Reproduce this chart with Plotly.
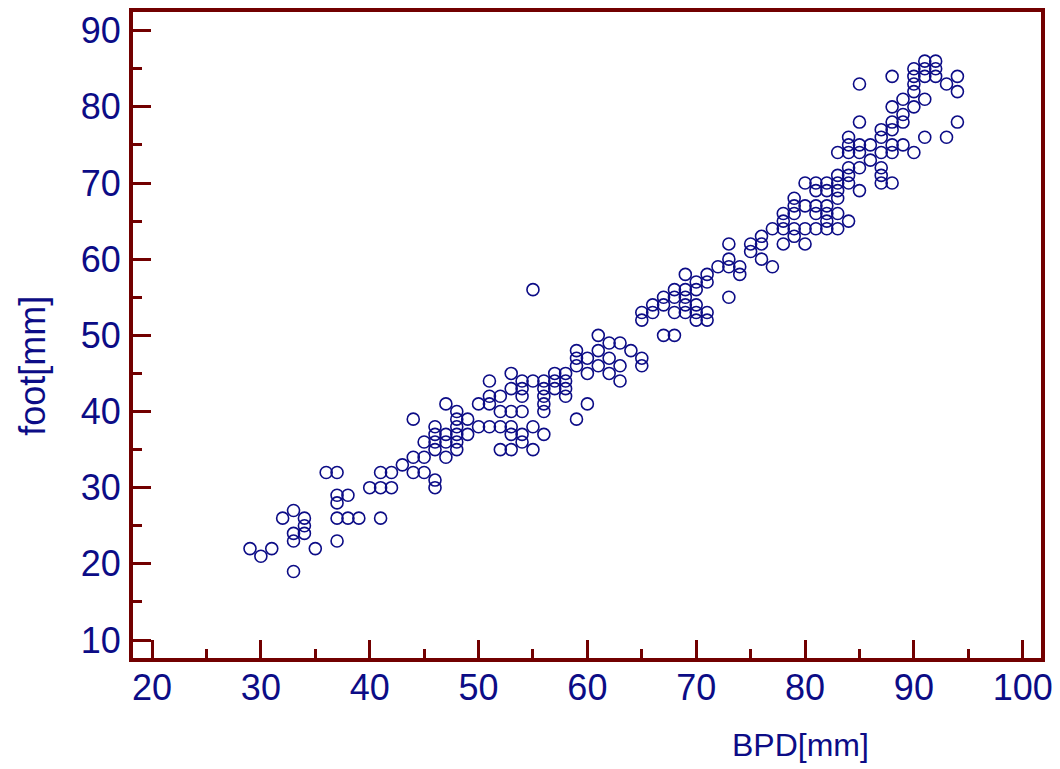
import plotly.graph_objects as go

# Biparietal diameter (BPD) vs foot length, both in mm
bpd = (
    [29, 30, 31, 32, 33, 33, 33, 33, 34, 34, 34, 35, 36]
    + [37, 37, 37, 37, 37, 38, 38, 39, 40, 41, 41, 41, 42, 42, 43]
    + [44, 44, 44, 45, 45, 45, 46, 46, 46, 46, 46, 46, 47, 47, 47, 47]
    + [48, 48, 48, 48, 48, 48, 49, 49, 50, 50, 51, 51, 51, 51]
    + [52, 52, 52, 52, 53, 53, 53, 53, 53, 53, 54, 54, 54, 54, 54, 54]
    + [55, 55, 55, 55, 56, 56, 56, 56, 56, 56, 57, 57, 57, 58, 58, 58, 58]
    + [59, 59, 59, 59, 60, 60, 60, 61, 61, 61, 62, 62, 62, 63, 63, 63, 64]
    + [65, 65, 65, 65, 66, 66, 67, 67, 67, 68, 68, 68, 68]
    + [69, 69, 69, 69, 69, 70, 70, 70, 70, 70, 71, 71, 71, 71, 72]
    + [73, 73, 73, 73, 74, 74, 75, 75, 76, 76, 76, 77, 77, 78, 78, 78, 78]
    + [79, 79, 79, 79, 79, 80, 80, 80, 80, 81, 81, 81, 81, 81]
    + [82, 82, 82, 82, 82, 82, 83, 83, 83, 83, 83, 83, 83]
    + [84, 84, 84, 84, 84, 84, 84, 85, 85, 85, 85, 85, 85, 86, 86]
    + [87, 87, 87, 87, 87, 87, 88, 88, 88, 88, 88, 88, 88, 89, 89, 89, 89]
    + [90, 90, 90, 90, 90, 90, 91, 91, 91, 91, 91, 92, 92, 92, 93, 93, 94, 94, 94]
)
foot = (
    [22, 21, 22, 26, 27, 24, 23, 19, 26, 25, 24, 22, 32]
    + [32, 29, 28, 26, 23, 29, 26, 26, 30, 32, 30, 26, 32, 30, 33]
    + [39, 34, 32, 36, 34, 32, 38, 37, 36, 35, 31, 30, 41, 37, 36, 34]
    + [40, 39, 38, 37, 36, 35, 39, 37, 41, 38, 44, 42, 41, 38]
    + [42, 40, 38, 35, 45, 43, 40, 38, 37, 35, 44, 43, 42, 40, 37, 36]
    + [56, 44, 38, 35, 44, 43, 42, 41, 40, 37, 45, 44, 43, 45, 44, 43, 42]
    + [48, 47, 46, 39, 47, 45, 41, 50, 48, 46, 49, 47, 45, 49, 46, 44, 48]
    + [53, 52, 47, 46, 54, 53, 55, 54, 50, 56, 55, 53, 50]
    + [58, 56, 55, 54, 53, 57, 56, 54, 53, 52, 58, 57, 53, 52, 59]
    + [62, 60, 59, 55, 59, 58, 62, 61, 63, 62, 60, 64, 59, 66, 65, 64, 62]
    + [68, 67, 66, 64, 63, 70, 67, 64, 62, 70, 69, 67, 66, 64]
    + [70, 69, 67, 66, 65, 64, 74, 71, 70, 69, 68, 66, 64]
    + [76, 75, 74, 72, 71, 70, 65, 83, 78, 75, 74, 72, 69, 75, 73]
    + [77, 76, 74, 72, 71, 70, 84, 80, 78, 77, 75, 74, 70, 81, 79, 78, 75]
    + [85, 84, 83, 82, 80, 74, 86, 85, 84, 81, 76, 86, 85, 84, 83, 76, 84, 82, 78]
)

x_ticks = [20, 30, 40, 50, 60, 70, 80, 90, 100]
y_ticks = [10, 20, 30, 40, 50, 60, 70, 80, 90]
x_title = "BPD[mm]"
y_title = "foot[mm]"

NAVY = "#0c0c86"
AXIS = "#720000"
FONT = "Liberation Sans, Arial, sans-serif"

fig = go.Figure()
fig.add_trace(go.Scatter(
    x=bpd, y=foot, mode="markers",
    marker=dict(symbol="circle-open", size=12, color=NAVY,
                line=dict(width=1.6, color=NAVY)),
    hoverinfo="x+y", showlegend=False,
))

axis_common = dict(
    showline=True, linecolor=AXIS, linewidth=4, mirror=True,
    showgrid=False, zeroline=False, automargin=False,
    ticks="inside", ticklen=18, tickwidth=3, tickcolor=AXIS,
    tickfont=dict(family=FONT, size=36, color=NAVY),
)

fig.update_xaxes(
    range=[18.25, 101.68], tickmode="array", tickvals=x_ticks,
    ticktext=[str(v) for v in x_ticks],
    minor=dict(ticks="inside", ticklen=9, tickwidth=2.5, tickcolor=AXIS, dtick=5, tick0=0),
    ticklabelstandoff=-5,
    **axis_common,
)
fig.update_yaxes(
    range=[7.64, 92.45], tickmode="array", tickvals=y_ticks,
    ticktext=[str(v) for v in y_ticks],
    minor=dict(ticks="inside", ticklen=9, tickwidth=2.5, tickcolor=AXIS, dtick=5, tick0=0),
    ticklabelstandoff=1,
    **axis_common,
)

# the page body adds an 8 px offset, so margins are shifted to compensate
fig.update_layout(
    width=1060, height=769,
    margin=dict(l=125, r=27, t=4, b=119),
    paper_bgcolor="white", plot_bgcolor="white",
    annotations=[
        dict(text=x_title, xref="paper", yref="paper", x=0.7346, y=-0.135,
             xanchor="center", yanchor="middle", showarrow=False,
             font=dict(family=FONT, size=32, color=NAVY)),
        dict(text=y_title, xref="paper", yref="paper", x=-0.1115, y=0.452,
             xanchor="center", yanchor="middle", showarrow=False, textangle=-90,
             borderpad=0,
             font=dict(family=FONT, size=36, color=NAVY)),
    ],
)

fig.write_html("out.html")
